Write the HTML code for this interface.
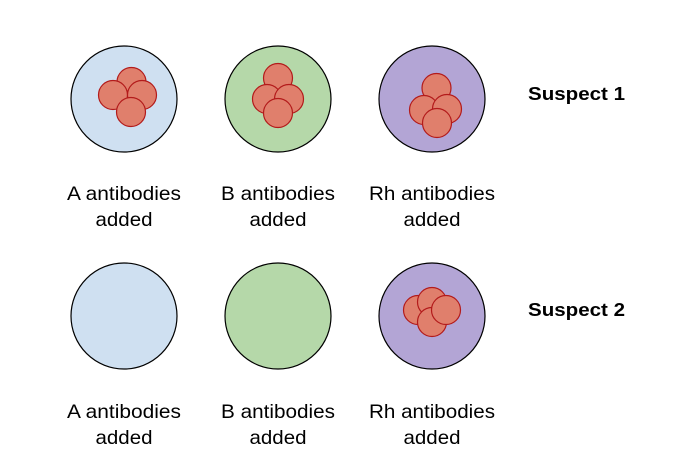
<html><body style="margin:0;width:685px;height:468px;background:#fff;overflow:hidden">
<svg width="685" height="468" xmlns="http://www.w3.org/2000/svg" font-family="Liberation Sans, sans-serif">
<g stroke="#000" stroke-width="1.2">
<circle cx="124" cy="99" r="53" fill="#cfe0f1"/>
<circle cx="278" cy="99" r="53" fill="#b5d8a9"/>
<circle cx="432" cy="99" r="53" fill="#b3a5d5"/>
<circle cx="124" cy="316" r="53" fill="#cfe0f1"/>
<circle cx="278" cy="316" r="53" fill="#b5d8a9"/>
<circle cx="432" cy="316" r="53" fill="#b3a5d5"/>
</g>
<g stroke="#b31b1b" stroke-width="1.2" fill="#e07f6c">
<circle cx="131.5" cy="82" r="14.5"/><circle cx="113" cy="95" r="14.5"/><circle cx="142" cy="95" r="14.5"/><circle cx="131" cy="112" r="14.5"/>
<circle cx="278" cy="78" r="14.5"/><circle cx="267" cy="99" r="14.5"/><circle cx="289" cy="99" r="14.5"/><circle cx="278" cy="113" r="14.5"/>
<circle cx="436.5" cy="88" r="14.5"/><circle cx="424" cy="110" r="14.5"/><circle cx="447" cy="109" r="14.5"/><circle cx="437" cy="123" r="14.5"/>
<circle cx="418" cy="310" r="14.5"/><circle cx="432" cy="302" r="14.5"/><circle cx="432" cy="322" r="14.5"/><circle cx="446" cy="310" r="14.5"/>
</g>
<g font-size="19.5" text-anchor="middle" fill="#000">
<text x="124" y="200" textLength="114" lengthAdjust="spacingAndGlyphs">A antibodies</text><text x="124" y="226" textLength="57" lengthAdjust="spacingAndGlyphs">added</text>
<text x="278" y="200" textLength="114" lengthAdjust="spacingAndGlyphs">B antibodies</text><text x="278" y="226" textLength="57" lengthAdjust="spacingAndGlyphs">added</text>
<text x="432" y="200" textLength="126" lengthAdjust="spacingAndGlyphs">Rh antibodies</text><text x="432" y="226" textLength="57" lengthAdjust="spacingAndGlyphs">added</text>
<text x="124" y="418" textLength="114" lengthAdjust="spacingAndGlyphs">A antibodies</text><text x="124" y="444" textLength="57" lengthAdjust="spacingAndGlyphs">added</text>
<text x="278" y="418" textLength="114" lengthAdjust="spacingAndGlyphs">B antibodies</text><text x="278" y="444" textLength="57" lengthAdjust="spacingAndGlyphs">added</text>
<text x="432" y="418" textLength="126" lengthAdjust="spacingAndGlyphs">Rh antibodies</text><text x="432" y="444" textLength="57" lengthAdjust="spacingAndGlyphs">added</text>
</g>
<g font-size="18" font-weight="bold">
<text x="528" y="100" textLength="97" lengthAdjust="spacingAndGlyphs">Suspect 1</text>
<text x="528" y="316" textLength="97" lengthAdjust="spacingAndGlyphs">Suspect 2</text>
</g>
</svg>
</body></html>
